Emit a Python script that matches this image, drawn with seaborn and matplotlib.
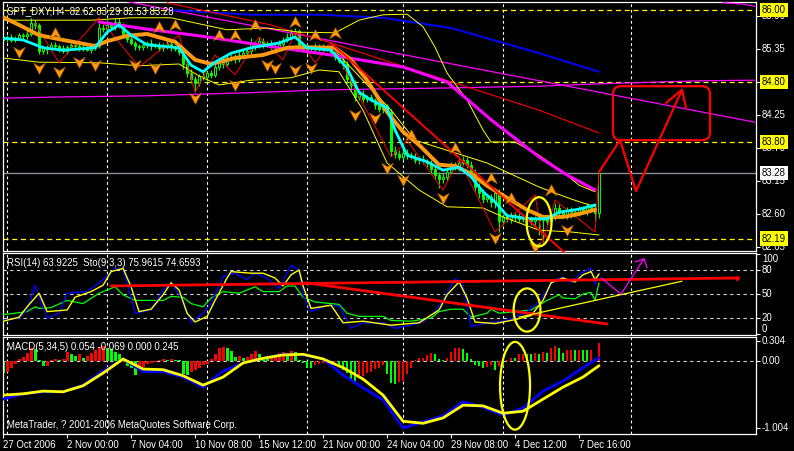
import matplotlib
matplotlib.use("Agg")
import matplotlib.pyplot as plt
import seaborn as sns
from matplotlib.patches import Ellipse, FancyBboxPatch
from matplotlib.path import Path

# ---------------- price data (H4 bars, 27 Oct - 7 Dec 2006) ----------------
first_open = 85.50
closes = [
    85.52, 85.55, 85.50, 85.54, 85.58, 85.56, 85.60, 85.78, 85.75, 85.32,
    85.38, 85.35, 85.42, 85.40, 85.36, 85.32, 85.38, 85.42, 85.40, 85.36,
    85.38, 85.34, 85.37, 85.40, 85.70, 85.68, 85.75, 85.72, 85.80, 85.74,
    85.60, 85.52, 85.45, 85.40, 85.38, 85.42, 85.45, 85.40, 85.42, 85.36,
    85.40, 85.43, 85.38, 85.35, 85.30, 85.10, 84.95, 84.85, 84.78, 84.90,
    84.88, 84.95, 84.92, 85.05, 85.15, 85.10, 85.20, 85.22, 85.18, 85.25,
    85.28, 85.32, 85.45, 85.40, 85.48, 85.42, 85.45, 85.40, 85.38, 85.44,
    85.50, 85.55, 85.62, 85.65, 85.42, 85.35, 85.38, 85.36, 85.40, 85.37,
    85.38, 85.35, 85.30, 85.22, 85.15, 85.10, 84.85, 84.75, 84.55, 84.60,
    84.52, 84.55, 84.50, 84.42, 84.35, 84.40, 84.30, 83.65, 83.60, 83.55,
    83.62, 83.58, 83.55, 83.50, 83.52, 83.48, 83.45, 83.35, 83.25, 83.18,
    83.22, 83.30, 83.40, 83.38, 83.45, 83.50, 83.42, 83.30, 83.05, 82.95,
    82.85, 82.88, 82.80, 82.95, 82.48, 82.55, 82.52, 82.58, 82.55, 82.52,
    82.55, 82.50, 82.48, 82.52, 82.50, 82.53, 82.48, 82.55, 82.70, 82.62,
    82.58, 82.65, 82.60, 82.63, 82.68, 82.66, 82.72, 82.70, 82.62, 83.28,
]
hi_pips = [
    4, 3, 5, 3, 4, 3, 6, 8, 5, 3,
    4, 3, 5, 4, 3, 6, 4, 3, 5, 4,
    3, 4, 3, 5, 9, 6, 8, 5, 7, 6,
    5, 4, 6, 3, 4, 5, 4, 6, 3, 4,
    5, 7, 4, 3, 6, 5, 4, 6, 5, 4,
    6, 4, 5, 7, 5, 4, 6, 5, 4, 6,
    5, 6, 8, 4, 7, 5, 4, 5, 4, 6,
    5, 6, 7, 5, 4, 5, 6, 4, 5, 4,
    5, 4, 6, 5, 4, 6, 5, 4, 8, 5,
    6, 4, 5, 4, 6, 5, 4, 5, 8, 6,
    12, 6, 5, 7, 5, 6, 4, 5, 6, 5,
    6, 5, 7, 6, 8, 7, 5, 6, 5, 6,
    7, 6, 5, 8, 6, 5, 7, 6, 5, 6,
    5, 8, 6, 5, 7, 6, 5, 9, 8, 6,
    5, 7, 6, 5, 6, 5, 6, 5, 4, 1,
]
lo_pips = [
    4, 5, 3, 4, 3, 5, 4, 3, 6, 5,
    5, 8, 4, 5, 6, 4, 5, 4, 3, 5,
    4, 3, 5, 4, 3, 5, 4, 3, 5, 4,
    6, 5, 4, 7, 5, 4, 5, 6, 4, 5,
    4, 5, 6, 4, 5, 8, 7, 6, 15, 5,
    4, 6, 5, 4, 5, 6, 4, 5, 6, 4,
    5, 4, 5, 6, 4, 5, 4, 6, 5, 4,
    5, 4, 5, 4, 6, 5, 8, 5, 4, 6,
    5, 4, 6, 5, 4, 8, 7, 9, 6, 5,
    6, 5, 4, 7, 5, 6, 4, 8, 6, 5,
    5, 6, 4, 5, 6, 5, 6, 8, 7, 15,
    6, 5, 4, 5, 6, 4, 5, 6, 7, 8,
    6, 5, 8, 10, 18, 6, 5, 7, 6, 5,
    6, 8, 7, 9, 25, 37, 6, 8, 5, 6,
    5, 6, 7, 5, 6, 5, 7, 6, 14, 9,
]

# ---------------- price-window indicator lines (bar index, value) ----------------
fast_bar = [0, 5, 10, 15, 23, 26, 29, 32, 36, 44, 47, 50, 53, 57, 62, 69, 73, 76, 82, 86,
            89, 92, 96, 98, 101, 106, 110, 114, 117, 120, 123, 126, 132, 136, 139, 144, 148]
fast_ma = [85.53, 85.50, 85.37, 85.33, 85.37, 85.63, 85.75, 85.58, 85.42, 85.37, 85.08, 84.97,
           85.13, 85.28, 85.37, 85.45, 85.55, 85.37, 85.33, 85.03, 84.63, 84.50, 84.37, 84.00,
           83.58, 83.47, 83.33, 83.38, 83.22, 82.97, 82.80, 82.57, 82.52, 82.52, 82.63, 82.68, 82.75]

slow_bar = [0, 4, 9, 15, 23, 26, 31, 36, 43, 48, 52, 58, 65, 71, 74, 83, 87, 91, 96, 100,
            104, 109, 113, 117, 121, 126, 131, 135, 140, 144, 148]
slow_ma = [85.88, 85.75, 85.58, 85.50, 85.40, 85.48, 85.57, 85.60, 85.47, 85.17, 85.10, 85.20,
           85.25, 85.37, 85.38, 85.37, 85.17, 84.83, 84.30, 83.97, 83.75, 83.42, 83.40, 83.27,
           83.07, 82.87, 82.67, 82.55, 82.55, 82.60, 82.67]

long_bar = [24, 36, 49, 66, 82, 100, 111, 122, 134, 141, 148]
long_ma = [85.80, 85.68, 85.57, 85.40, 85.25, 85.05, 84.80, 84.17, 83.55, 83.25, 83.00]

blue_bar = [42, 62, 80, 95, 112, 134, 149]
blue_ma = [86.00, 85.92, 85.92, 85.87, 85.70, 85.28, 84.97]

red_ma_bar = [41, 67, 82, 134, 149]
red_ma = [86.12, 85.75, 85.45, 84.33, 83.95]

pink_fall_bar = [31, 188]
pink_fall = [86.14, 84.13]
pink_base_bar = [0, 14, 36, 61, 81, 111, 134, 149, 174, 188]
pink_base = [84.53, 84.55, 84.57, 84.62, 84.67, 84.70, 84.73, 84.77, 84.82, 84.83]
pink_top_bar = [180, 185, 188]
pink_top = [86.12, 86.10, 86.06]

band_up_bar = [0, 11, 22, 32, 42, 56, 66, 74, 83, 89, 95, 101, 105, 108, 111, 116, 120, 122,
               128, 134, 140, 144, 148]
band_up = [85.83, 85.83, 85.83, 85.87, 85.87, 85.67, 85.70, 85.63, 85.62, 85.83, 85.92, 85.93,
           85.72, 85.38, 84.95, 84.50, 84.00, 83.80, 83.80, 83.58, 83.30, 83.08, 82.97]
band_lo_bar = [0, 9, 24, 34, 44, 49, 54, 62, 72, 79, 84, 90, 96, 104, 111, 120, 125, 134, 142, 149]
band_lo = [85.20, 85.13, 85.12, 85.07, 85.10, 84.90, 84.75, 84.83, 84.87, 85.00, 84.97, 84.33,
           83.45, 83.00, 82.72, 82.70, 82.55, 82.33, 82.30, 82.25]
band_mid_bar = [83, 97, 103, 121, 134, 142, 148]
band_mid = [85.32, 84.33, 83.83, 83.45, 83.05, 82.85, 82.72]

zigzag_bar = [8, 14, 24, 34, 44, 48, 53, 58, 64, 70, 73, 78, 82, 97, 101, 110, 114, 123,
              133, 135, 138, 148, 149]
zigzag = [85.78, 85.12, 85.87, 85.05, 85.58, 84.63, 85.25, 84.92, 85.55, 85.17, 85.63, 85.12,
          85.45, 83.55, 83.83, 83.00, 83.50, 82.30, 82.92, 82.13, 82.83, 82.30, 83.30]

trend_bar = [82, 143]
trend = [85.45, 81.80]

frac_up_bar = [13, 39, 43, 54, 58, 63, 73, 78, 83, 102, 113, 122, 127, 137]
frac_up = [85.62, 85.72, 85.75, 85.58, 85.58, 85.75, 85.80, 85.58, 85.62, 83.92, 83.70,
           83.20, 82.87, 83.00]
frac_dn_bar = [4, 9, 14, 19, 23, 33, 38, 48, 58, 66, 68, 73, 77, 88, 93, 96, 100, 110, 123, 133, 141]
frac_dn = [85.30, 85.03, 84.97, 85.13, 85.08, 85.08, 85.03, 84.53, 84.75, 85.08, 85.03, 85.00,
           85.03, 84.25, 84.20, 83.37, 83.17, 82.87, 82.20, 82.05, 82.33]

# drawn objects in the price window
plan_bar = [149, 154.25, 158.25, 169.75]
plan = [83.30, 83.83, 82.98, 84.67]
plan_head_bar = [165.75, 169.75, 170.75]
plan_head = [84.45, 84.67, 84.37]
target_box = (152.5, 83.83, 24.25, 0.90)   # bar, price, width(bars), height(price)
price_ring = (134, 82.47, 6.25, 0.82)
price_levels = [86.00, 84.80, 83.80, 82.19]
last_price = 83.28
price_ticks = [82.05, 82.60, 83.15, 83.70, 84.25, 84.80, 85.35, 85.90]

# ---------------- RSI / Stochastic window ----------------
rsi_bar = [0, 6, 8, 9, 12, 16, 20, 24, 26, 28, 30, 33, 40, 42, 45, 47, 50, 52, 55, 59, 63, 65,
           69, 71, 73, 75, 78, 82, 84, 86, 89, 95, 97, 102, 107, 109, 112, 115, 117, 121, 122,
           124, 128, 132, 134, 136, 139, 140, 143, 145, 147, 148, 149]
rsi = [24, 28, 34, 32, 33, 42, 38, 51, 55, 59, 49, 42, 42, 47, 46, 38, 34, 45, 53, 51, 59, 53,
       53, 60, 60, 46, 40, 38, 37, 26, 22, 22, 17, 16, 20, 28, 31, 31, 21, 26, 31,
       26, 28, 30, 36, 42, 49, 45, 44, 50, 52, 42, 64]
sto_bar = [0, 4, 6, 8, 9, 11, 14, 16, 21, 25, 28, 30, 31, 33, 37, 40, 42, 45, 47, 50, 52, 55,
           58, 61, 63, 66, 69, 72, 74, 75, 77, 81, 84, 87, 90, 95, 98, 102, 105, 108, 110,
           112, 113, 115, 117, 121, 125, 128, 131, 134, 136, 138, 140, 142, 144, 146, 147, 148, 149]
sto_main = [17, 20, 30, 61, 46, 20, 26, 51, 53, 68, 82, 80, 64, 26, 30, 55, 64, 42, 14, 26, 38,
            72, 76, 68, 76, 70, 57, 86, 80, 49, 28, 36, 35, 7, 14, 14, 7, 11, 15, 28, 42,
            60, 69, 60, 9, 14, 16, 21, 28, 40, 55, 68, 71, 64, 74, 80, 82, 62, 76]
sig_bar = [0, 4, 6, 9, 11, 16, 18, 22, 25, 27, 30, 32, 34, 37, 40, 42, 44, 46, 48, 51, 53, 56,
           57, 62, 65, 68, 70, 72, 74, 75, 77, 82, 85, 90, 97, 104, 109, 111, 114, 116, 118,
           123, 128, 132, 135, 137, 140, 143, 145, 147, 148, 149]
sto_signal = [16, 21, 34, 51, 28, 30, 46, 53, 61, 78, 82, 59, 28, 31, 49, 64, 55, 26, 15, 22, 42,
              70, 78, 76, 76, 70, 60, 74, 80, 60, 32, 36, 14, 16, 11, 14, 30, 49, 65, 45, 15,
              13, 18, 23, 42, 64, 70, 65, 74, 78, 68, 75]
rsi_levels = [20, 50, 80]
rsi_ticks = [0, 20, 50, 80, 100]
rsi_line_hi_bar = [27, 183.5]
rsi_line_hi = [60, 70]
rsi_line_lo_bar = [75.75, 151]
rsi_line_lo = [64, 12.5]
rsi_support_bar = [129, 169.75]
rsi_support = [21, 66]
rsi_plan_bar = [149.5, 154.5, 160.25]
rsi_plan = [70, 50, 94]
rsi_head_bar = [158, 160.25, 161]
rsi_head = [90, 94, 83]
rsi_ring = (131, 30, 6.7, 54)

# ---------------- MACD window ----------------
osma = [
    -0.18, -0.17, -0.10, -0.05, 0.03, 0.06, 0.12, 0.19, 0.18, 0.02,
    -0.08, -0.07, 0.02, 0.03, 0.02, 0.03, 0.13, 0.10, 0.08, 0.10,
    0.05, 0.07, 0.12, 0.16, 0.21, 0.22, 0.19, 0.18, 0.14, 0.10,
    0.03, -0.08, -0.11, -0.21, -0.14, -0.09, -0.05, -0.03, -0.01, 0.02,
    0.03, 0.02, 0.03, 0.02, 0.01, -0.20, -0.21, -0.17, -0.13, -0.10,
    -0.06, -0.05, 0.03, 0.11, 0.20, 0.21, 0.19, 0.15, 0.06, 0.08,
    0.04, 0.06, 0.10, 0.15, 0.11, 0.04, 0.03, 0.05, 0.09, 0.12,
    0.14, 0.12, 0.15, 0.13, 0.02, -0.03, -0.10, -0.11, -0.06, -0.04,
    -0.03, -0.02, -0.03, -0.02, -0.08, -0.13, -0.18, -0.28, -0.30, -0.26,
    -0.22, -0.18, -0.16, -0.12, -0.10, -0.06, -0.20, -0.33, -0.35, -0.31,
    -0.30, -0.19, -0.10, 0.02, 0.04, 0.05, 0.09, 0.12, 0.11, 0.03,
    0.01, 0.04, 0.14, 0.19, 0.20, 0.18, 0.12, 0.03, -0.06, -0.08,
    -0.10, -0.09, -0.06, -0.14, -0.07, -0.08, 0.02, 0.05, 0.05, 0.10,
    0.11, 0.11, 0.10, 0.12, 0.11, 0.13, 0.12, 0.20, 0.22, 0.19,
    0.12, 0.16, 0.17, 0.16, 0.17, 0.17, 0.16, 0.17, 0.03, 0.27,
]
macd_bar = list(range(0, 150, 5)) + [149]
macd_main = [-0.57, -0.49, -0.46, -0.46, -0.36, -0.15, 0.03, -0.16, -0.16, -0.24, -0.39,
             -0.15, -0.03, 0.04, 0.10, 0.09, 0.03, -0.21, -0.40, -0.58, -1.00, -0.91,
             -0.82, -0.61, -0.69, -0.81, -0.70, -0.45, -0.30, -0.10, 0.05]
macd_signal = [-0.51, -0.49, -0.45, -0.46, -0.37, -0.18, 0.03, -0.12, -0.13, -0.22, -0.36,
               -0.24, -0.03, 0.04, 0.09, 0.10, 0.03, -0.10, -0.27, -0.51, -0.90, -0.93,
               -0.85, -0.66, -0.67, -0.78, -0.75, -0.57, -0.39, -0.24, -0.07]
macd_ticks = [-1.004, 0.0, 0.304]
macd_ring = (128, -0.37, 7.5, 1.31)

date_ticks = [0, 16, 32, 48, 64, 80, 96, 112, 128, 144]
date_labels = ["27 Oct 2006", "2 Nov 00:00", "7 Nov 04:00", "10 Nov 08:00", "15 Nov 12:00",
               "21 Nov 00:00", "24 Nov 04:00", "29 Nov 08:00", "4 Dec 12:00", "7 Dec 16:00"]
week_lines = [1, 26, 51, 76, 100, 125, 157]

# ---------------- styling ----------------
sns.set_style("dark", {"axes.facecolor": "black", "figure.facecolor": "black"})
plt.rcParams["font.family"] = ["Liberation Sans", "DejaVu Sans"]
plt.rcParams["patch.force_edgecolor"] = False
FS = 6.9
LIME, CYAN, ORANGE, PINK, YEL, RED = "#00ff00", "#00ffff", "#ff9a10", "#ff00ff", "#ffff00", "#ff0000"


def line(ax, xs, ys, color, lw, z=3, **kw):
    sns.lineplot(x=xs, y=ys, ax=ax, color=color, linewidth=lw, estimator=None,
                 sort=False, legend=False, zorder=z, **kw)


fig = plt.figure(figsize=(7.94, 4.51), dpi=100, facecolor="black")
L, W = 2.7 / 794, 753.3 / 794
ax_p = fig.add_axes([L, 1 - 251 / 451, W, 249 / 451])
ax_r = fig.add_axes([L, 1 - 335 / 451, W, 82 / 451])
ax_m = fig.add_axes([L, 1 - 434 / 451, W, 97 / 451])

for ax in (ax_p, ax_r, ax_m):
    ax.set_facecolor("black")
    ax.grid(False)
    for s in ax.spines.values():
        s.set_color("white")
        s.set_linewidth(0.9)
    for b in week_lines:
        ax.axvline(b, color="white", lw=0.8, ls=(0, (2.5, 2.5)), zorder=1)
    ax.set_xlim(-0.1, 188.25)
    ax.tick_params(axis="y", left=False, right=True, labelleft=False, labelright=False,
                   length=3, width=0.8, color="white")
    ax.tick_params(axis="x", bottom=False, labelbottom=False)

# ---- price window ----
opens = [first_open] + closes[:-1]
highs = [max(o, c) + h / 100 for o, c, h in zip(opens, closes, hi_pips)]
lows = [min(o, c) - l / 100 for o, c, l in zip(opens, closes, lo_pips)]
bars = list(range(len(closes)))
ax_p.vlines(bars, lows, highs, color=LIME, lw=0.8, zorder=2)
body_lo = [min(o, c) for o, c in zip(opens, closes)]
body_h = [max(abs(c - o), 0.006) for o, c in zip(opens, closes)]
face = ["black" if c >= o else LIME for o, c in zip(opens, closes)]
ax_p.bar(bars, body_h, bottom=body_lo, width=0.62, color=face, edgecolor=LIME,
         linewidth=0.7, zorder=2)

for lv in price_levels:
    ax_p.axhline(lv, color=YEL, lw=0.9, ls=(0, (4, 3)), zorder=1)
ax_p.axhline(last_price, color="#8a9099", lw=1.0, zorder=1)

line(ax_p, pink_base_bar, pink_base, PINK, 0.9)
line(ax_p, pink_fall_bar, pink_fall, PINK, 0.9)
line(ax_p, pink_top_bar, pink_top, PINK, 0.9)
line(ax_p, blue_bar, blue_ma, "#0000ff", 1.4)
line(ax_p, red_ma_bar, red_ma, RED, 0.8)
line(ax_p, band_up_bar, band_up, YEL, 0.7)
line(ax_p, band_lo_bar, band_lo, YEL, 0.7)
line(ax_p, band_mid_bar, band_mid, YEL, 0.7)
line(ax_p, zigzag_bar, zigzag, RED, 0.7)
line(ax_p, long_bar, long_ma, PINK, 2.2)
line(ax_p, slow_bar, slow_ma, ORANGE, 2.8)
line(ax_p, fast_bar, fast_ma, CYAN, 2.0)
line(ax_p, trend_bar, trend, RED, 1.4, z=4, clip_on=False)

up_mark = Path([(0, 1), (1, -0.9), (0, -0.3), (-1, -0.9), (0, 1)],
               [Path.MOVETO, Path.LINETO, Path.LINETO, Path.LINETO, Path.CLOSEPOLY])
dn_mark = Path([(0, -1), (1, 0.9), (0, 0.3), (-1, 0.9), (0, -1)],
               [Path.MOVETO, Path.LINETO, Path.LINETO, Path.LINETO, Path.CLOSEPOLY])
ax_p.scatter(frac_up_bar, frac_up, marker=up_mark, s=70, color=ORANGE, edgecolors="#b05a00",
             linewidths=0.4, zorder=5)
ax_p.scatter(frac_dn_bar, frac_dn, marker=dn_mark, s=70, color=ORANGE, edgecolors="#b05a00",
             linewidths=0.4, zorder=5)

ax_p.add_patch(Ellipse(price_ring[:2], price_ring[2], price_ring[3], fill=False,
                       ec=YEL, lw=1.6, zorder=6))
bx, by, bw, bh = target_box
ax_p.add_patch(FancyBboxPatch((bx, by), bw, bh, boxstyle="round,pad=0,rounding_size=2",
                              mutation_aspect=1 / 15, fill=False, ec=RED, lw=1.6, zorder=6))
line(ax_p, plan_bar, plan, RED, 1.6, z=6)
line(ax_p, plan_head_bar, plan_head, RED, 1.6, z=6)

ax_p.set_ylim(81.983, 86.133)
ax_p.set_yticks(price_ticks)
ytr = ax_p.get_yaxis_transform()
for t in price_ticks:
    if t in price_levels:
        continue  # the highlighted level label already shows this value
    ax_p.text(1.008, t, f"{t:.2f}", transform=ytr, color="white", fontsize=FS,
              va="center", ha="left", clip_on=False, zorder=7)
for lv in price_levels:
    ax_p.text(1.008, lv, f"{lv:.2f}", transform=ytr, color="black", fontsize=FS,
              va="center", ha="left", clip_on=False, zorder=8,
              bbox=dict(boxstyle="square,pad=0.22", fc=YEL, ec="none"))
ax_p.text(1.008, last_price, f"{last_price:.2f}", transform=ytr, color="black", fontsize=FS,
          va="center", ha="left", clip_on=False, zorder=8,
          bbox=dict(boxstyle="square,pad=0.22", fc="white", ec="none"))
ax_p.text(0.0057, 0.964, "SPT_DXY,H4  82.62 83.29 82.53 83.28", transform=ax_p.transAxes,
          color="white", fontsize=FS, va="center", ha="left", zorder=9)

# ---- RSI / Stochastic window ----
for lv in rsi_levels:
    ax_r.axhline(lv, color="#d0d0d0", lw=0.8, ls=(0, (3, 3)), zorder=1)
line(ax_r, rsi_bar, rsi, LIME, 0.9)
line(ax_r, sto_bar, sto_main, "#0000ff", 1.0)
line(ax_r, sig_bar, sto_signal, YEL, 1.0)
line(ax_r, rsi_line_hi_bar, rsi_line_hi, RED, 2.0, z=4)
line(ax_r, rsi_line_lo_bar, rsi_line_lo, RED, 2.0, z=4)
ax_r.scatter([rsi_line_hi_bar[-1]], [rsi_line_hi[-1]], s=6, color=RED, zorder=4)
line(ax_r, rsi_support_bar, rsi_support, YEL, 0.9, z=4)
line(ax_r, rsi_plan_bar, rsi_plan, PINK, 0.9, z=4)
line(ax_r, rsi_head_bar, rsi_head, PINK, 0.9, z=4)
ax_r.add_patch(Ellipse(rsi_ring[:2], rsi_ring[2], rsi_ring[3], fill=False, ec=YEL, lw=1.6, zorder=6))
ax_r.set_ylim(-1.25, 101.25)
ax_r.set_yticks(rsi_ticks)
rtr = ax_r.get_yaxis_transform()
for t in rsi_ticks:
    va = "top" if t == 100 else ("bottom" if t == 0 else "center")
    ax_r.text(1.008, t, str(t), transform=rtr, color="white", fontsize=FS, va=va, ha="left",
              clip_on=False)
ax_r.text(0.0057, 0.878, "RSI(14) 63.9225  Sto(9,3,3) 75.9615 74.6593", transform=ax_r.transAxes,
          color="white", fontsize=FS, va="center", ha="left", zorder=9)

# ---- MACD window ----
ax_m.axhline(0, color="#d0d0d0", lw=0.8, ls=(0, (3, 3)), zorder=1)
bar_col = [LIME] + [RED if v > p else LIME for p, v in zip(osma[:-1], osma[1:])]
ax_m.bar(bars, osma, width=0.72, color=bar_col, edgecolor="none", linewidth=0, zorder=2)
line(ax_m, macd_bar, macd_main, "#0000ff", 2.0)
line(ax_m, macd_bar, macd_signal, YEL, 2.0)
ax_m.add_patch(Ellipse(macd_ring[:2], macd_ring[2], macd_ring[3], fill=False, ec=YEL, lw=1.6, zorder=6))
ax_m.set_ylim(-1.09, 0.358)
ax_m.set_yticks(macd_ticks)
mtr = ax_m.get_yaxis_transform()
for t, s in zip(macd_ticks, ["-1.004", "0.00", "0.304"]):
    ax_m.text(1.008, t, s, transform=mtr, color="white", fontsize=FS, va="center", ha="left",
              clip_on=False)
ax_m.text(0.0057, 0.897, "MACD(5,34,5) 0.054 -0.069 0.000 0.245", transform=ax_m.transAxes,
          color="white", fontsize=FS, va="center", ha="left", zorder=9)
ax_m.text(0.0057, 0.093, "MetaTrader, ? 2001-2006 MetaQuotes Software Corp.", transform=ax_m.transAxes,
          color="white", fontsize=FS, va="center", ha="left", zorder=9)
ax_m.set_xticks(date_ticks)
ax_m.set_xticklabels(date_labels, ha="left")
ax_m.tick_params(axis="x", bottom=True, labelbottom=True, length=3, width=0.8, color="white",
                 labelcolor="white", labelsize=FS, pad=1.5)

for ax in (ax_p, ax_r, ax_m):
    ax.set_xlabel("")
    ax.set_ylabel("")

fig.savefig("out.png", dpi=100, facecolor="black")
